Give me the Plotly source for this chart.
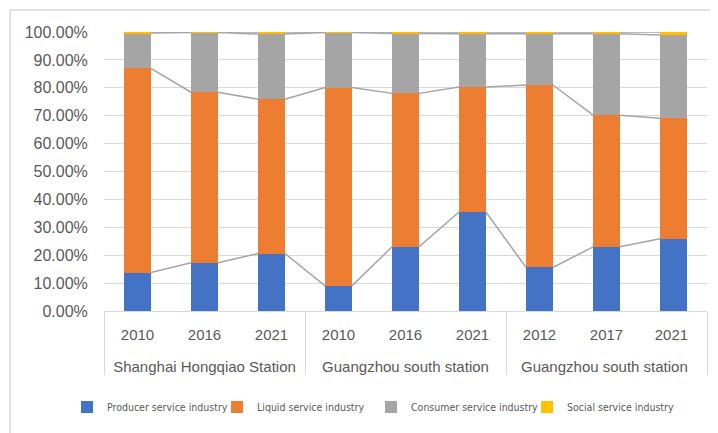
import numpy as np
import plotly.graph_objects as go

stations = ["Shanghai Hongqiao Station"] * 3 + ["Guangzhou south station"] * 3 + ["Guangzhou south station "] * 3
years = ["2010", "2016", "2021", "2010", "2016", "2021", "2012", "2017", "2021 "]

producer = [0.138, 0.173, 0.206, 0.090, 0.230, 0.355, 0.156, 0.230, 0.259]
liquid = [0.732, 0.611, 0.553, 0.711, 0.550, 0.448, 0.654, 0.472, 0.432]
consumer = [0.126, 0.214, 0.234, 0.197, 0.215, 0.191, 0.184, 0.292, 0.298]
social = [0.004, 0.002, 0.007, 0.002, 0.005, 0.006, 0.006, 0.006, 0.011]

series_names = ["Producer service industry", "Liquid service industry",
                "Consumer service industry", "Social service industry"]
colors = ["#4472C4", "#ED7D31", "#A5A5A5", "#FFC000"]

# the page body adds an 8px offset; compensate so the picture lands in place
OFF = 8
W, H = 718 - OFF, 433 - OFF
ML, MT = 104 - OFF, 32 - OFF
PLOT_BOTTOM = 311 - OFF
PLOT_RIGHT = 707 - OFF
MR = W - PLOT_RIGHT
MB = H - PLOT_BOTTOM
pw = W - ML - MR
ph = H - MT - MB
BAR_W = 0.4


def px_x(sx):
    return (sx - OFF - ML) / pw


def px_y(sy):
    return (PLOT_BOTTOM - (sy - OFF)) / ph


year_labels = [y + "<br><span style='font-size:30px'>\u00a0</span>" for y in years]
legend_ids = ["legend", "legend2", "legend3", "legend4"]
legend_marker_x = [88, 238, 392, 548]

fig = go.Figure()
for name, vals, col, lid in zip(series_names, [producer, liquid, consumer, social], colors, legend_ids):
    fig.add_trace(go.Bar(
        x=[stations, year_labels], y=vals, name=name, legend=lid,
        marker=dict(color=col, line=dict(width=0)), width=BAR_W,
    ))

# Excel-style series lines connecting the segment tops between adjacent bars
cum = np.cumsum(np.array([producer, liquid, consumer, social]), axis=0)
n = len(years)
for k in range(cum.shape[0]):
    xs, ys = [], []
    for i in range(n - 1):
        xs += [i + BAR_W / 2, i + 1 - BAR_W / 2, None]
        ys += [cum[k, i], cum[k, i + 1], None]
    fig.add_trace(go.Scatter(x=xs, y=ys, xaxis="x2", yaxis="y", mode="lines",
                             line=dict(color="#A5A5A5", width=1.5),
                             showlegend=False, hoverinfo="skip"))

legend_font = dict(family="DejaVu Sans Condensed, Liberation Sans Narrow, Liberation Sans, sans-serif",
                   size=10.5, color="#595959")
legends = {}
for lid, mx in zip(legend_ids, legend_marker_x):
    legends[lid] = dict(orientation="h", x=px_x(mx - 21), xanchor="left",
                        y=px_y(407), yanchor="middle", font=legend_font,
                        itemwidth=30, bgcolor="rgba(0,0,0,0)")

fig.update_layout(
    width=W, height=H,
    margin=dict(l=ML, r=MR, t=MT, b=MB, pad=0),
    barmode="stack",
    paper_bgcolor="white", plot_bgcolor="white",
    font=dict(family="Liberation Sans, Arial, sans-serif", color="#595959"),
    xaxis=dict(type="multicategory", showgrid=False, showline=True, linecolor="#D9D9D9",
               linewidth=1, showdividers=True, dividercolor="#D9D9D9", dividerwidth=1,
               tickfont=dict(size=15, color="#595959"),
               ticks="", ticklabelstandoff=10),
    xaxis2=dict(overlaying="x", range=[-0.5, n - 0.5], visible=False, fixedrange=True),
    yaxis=dict(range=[0, 1], tickformat=".2%", dtick=0.1, showgrid=True, gridcolor="#D9D9D9",
               gridwidth=1, zeroline=False, showline=False,
               ticks="outside", ticklen=12, tickcolor="rgba(0,0,0,0)",
               tickfont=dict(size=16, color="#595959")),
    shapes=[dict(type="rect", xref="paper", yref="paper",
                 x0=px_x(10), x1=px_x(730),
                 y0=px_y(445), y1=px_y(10),
                 line=dict(color="#D9D9D9", width=1.5), fillcolor="rgba(0,0,0,0)", layer="below")],
    showlegend=True,
    **legends,
)

fig.write_html("out.html")
